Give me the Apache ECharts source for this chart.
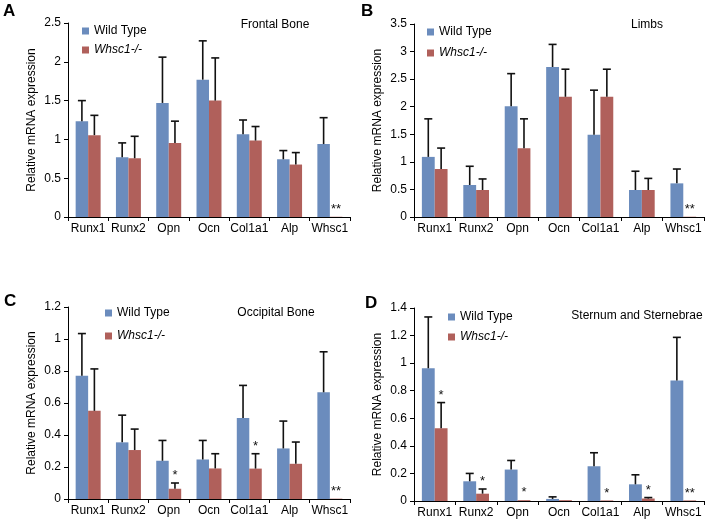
<!DOCTYPE html>
<html>
<head>
<meta charset="utf-8">
<script src="https://cdn.jsdelivr.net/npm/echarts@6/dist/echarts.min.js"></script>
<style>html,body{margin:0;padding:0;background:#fff}#c{width:708px;height:520px}</style>
</head>
<body>
<div id="c"></div>
<script>
const categories = ['Runx1','Runx2','Opn','Ocn','Col1a1','Alp','Whsc1'];
const seriesNames = ['Wild Type','Whsc1-/-'];

// Panel A - Frontal Bone
const wtA = [1.235,0.77,1.47,1.77,1.067,0.744,0.94];
const wtErrA = [1.50,0.955,2.06,2.27,1.25,0.856,1.28];
const koA = [1.055,0.757,0.955,1.50,0.985,0.676,0.003];
const koErrA = [1.31,1.04,1.235,2.05,1.166,0.83,null];
const sigA = ['','','','','','','**'];

// Panel B - Limbs
const wtB = [1.09,0.58,2.01,2.72,1.49,0.49,0.61];
const wtErrB = [1.78,0.92,2.60,3.13,2.30,0.83,0.87];
const koB = [0.87,0.49,1.245,2.18,2.18,0.49,0.005];
const koErrB = [1.25,0.69,1.78,2.68,2.68,0.70,null];
const sigB = ['','','','','','','**'];

// Panel C - Occipital Bone
const wtC = [0.77,0.354,0.239,0.247,0.507,0.316,0.667];
const wtErrC = [1.034,0.524,0.366,0.366,0.71,0.487,0.92];
const koC = [0.551,0.306,0.064,0.191,0.19,0.22,0.002];
const koErrC = [0.813,0.437,0.10,0.283,0.283,0.356,null];
const sigC = ['','','*','','*','','**'];

// Panel D - Sternum and Sternebrae
const wtD = [0.963,0.143,0.228,0.015,0.252,0.121,0.874];
const wtErrD = [1.335,0.20,0.294,0.03,0.35,0.19,1.187];
const koD = [0.527,0.053,0.006,0.006,0.004,0.018,0.004];
const koErrD = [0.714,0.087,null,null,null,0.025,null];
const sigD = ['*','*','*','','*','*','**'];

const panelTitles = ['Frontal Bone','Limbs','Occipital Bone','Sternum and Sternebrae'];
const panelLetters = ['A','B','C','D'];
const yMax = [2.5,3.5,1.2,1.4];
const yInterval = [0.5,0.5,0.2,0.2];

const FONT = 'Liberation Sans, Arial, Helvetica, sans-serif';
const BLUE = '#6b8cbd';
const RED = '#b0605b';
const BARW = 0.31;

const panels = [
  {wt: wtA, wtErr: wtErrA, ko: koA, koErr: koErrA, sig: sigA},
  {wt: wtB, wtErr: wtErrB, ko: koB, koErr: koErrB, sig: sigB},
  {wt: wtC, wtErr: wtErrC, ko: koC, koErr: koErrC, sig: sigC},
  {wt: wtD, wtErr: wtErrD, ko: koD, koErr: koErrD, sig: sigD}
];

const grids = [
  {left: 68, top: 23, width: 282, height: 194},
  {left: 414, top: 24, width: 290, height: 193},
  {left: 68, top: 307, width: 282, height: 192},
  {left: 414, top: 308, width: 290, height: 193}
];
const legendPos = [
  {left: 82, top: 24, itemGap: 5},
  {left: 427, top: 25, itemGap: 7},
  {left: 105, top: 306, itemGap: 9},
  {left: 448, top: 310, itemGap: 6}
];
const titlePos = [[275,25],[647,25],[276,313],[637,316]];
const letterPos = [[3,11],[361,11],[4,301],[365,303]];

const chart = echarts.init(document.getElementById('c'), null, {renderer: 'canvas'});

const xAxes = [], yAxes = [], series = [], legends = [], graphics = [];
panels.forEach((p, k) => {
  xAxes.push({
    type: 'category', gridIndex: k, data: categories,
    axisLine: {lineStyle: {color: '#000', width: 1}},
    axisTick: {show: true, length: 4, lineStyle: {color: '#000'}},
    axisLabel: {color: '#000', fontSize: 12, fontFamily: FONT, margin: 6, interval: 0}
  });
  yAxes.push({
    type: 'value', gridIndex: k, min: 0, max: yMax[k], interval: yInterval[k],
    name: 'Relative mRNA expression', nameLocation: 'middle', nameGap: 30,
    nameTextStyle: {color: '#000', fontSize: 12, fontFamily: FONT},
    axisLine: {show: true, lineStyle: {color: '#000', width: 1}},
    axisTick: {show: true, length: 4, lineStyle: {color: '#000'}},
    axisLabel: {color: '#000', fontSize: 12, fontFamily: FONT, margin: 7},
    splitLine: {show: false}
  });
  series.push({
    name: seriesNames[0], type: 'bar', xAxisIndex: k, yAxisIndex: k,
    data: p.wt, barWidth: (BARW*100)+'%', barGap: '0%',
    itemStyle: {color: BLUE}, animation: false
  });
  series.push({
    name: seriesNames[1], type: 'bar', xAxisIndex: k, yAxisIndex: k,
    data: p.ko, barWidth: (BARW*100)+'%', barGap: '0%',
    itemStyle: {color: RED}, animation: false
  });
  series.push({
    type: 'custom', xAxisIndex: k, yAxisIndex: k, clip: false, z: 5, animation: false,
    silent: true,
    data: categories.map((c, i) => [i, Math.max(p.wtErr[i] || p.wt[i], p.koErr[i] || p.ko[i])]),
    encode: {x: 0, y: 1},
    renderItem: function (params, api) {
      const i = params.dataIndex;
      const band = api.size([1, 0])[0];
      const bw = band * BARW;
      const c0 = api.coord([i, 0]);
      const children = [];
      const cap = 4;
      const addErr = (cx, v, top) => {
        if (top == null) return;
        const a = api.coord([i, v])[1];
        const b = api.coord([i, top])[1];
        children.push({type: 'line', shape: {x1: cx, y1: a, x2: cx, y2: b},
          style: {stroke: '#111', lineWidth: 1.6}});
        children.push({type: 'line', shape: {x1: cx - cap, y1: b, x2: cx + cap, y2: b},
          style: {stroke: '#111', lineWidth: 1.6}});
      };
      const wx = c0[0] - bw / 2, kx = c0[0] + bw / 2;
      addErr(wx, p.wt[i], p.wtErr[i]);
      addErr(kx, p.ko[i], p.koErr[i]);
      if (p.sig[i]) {
        const topV = p.koErr[i] != null ? p.koErr[i] : p.ko[i];
        const ty = api.coord([i, topV])[1];
        children.push({type: 'text', x: kx, y: ty - 1,
          style: {text: p.sig[i], fill: '#111', font: '13px ' + FONT,
            textAlign: 'center', textVerticalAlign: 'bottom'}});
      }
      return {type: 'group', children: children};
    }
  });
  legends.push({
    orient: 'vertical', left: legendPos[k].left, top: legendPos[k].top,
    itemGap: legendPos[k].itemGap, itemWidth: 7, itemHeight: 7, icon: 'rect',
    selectedMode: false, padding: 0,
    textStyle: {color: '#000', fontSize: 12, fontFamily: FONT, lineHeight: 14},
    data: [
      {name: seriesNames[0], itemStyle: {color: BLUE}},
      {name: seriesNames[1], itemStyle: {color: RED}, textStyle: {fontStyle: 'italic'}}
    ]
  });
  graphics.push({
    type: 'text', x: titlePos[k][0], y: titlePos[k][1],
    style: {text: panelTitles[k], fill: '#000', font: '12px ' + FONT,
      textAlign: 'center', textVerticalAlign: 'middle'}
  });
  graphics.push({
    type: 'text', x: letterPos[k][0], y: letterPos[k][1],
    style: {text: panelLetters[k], fill: '#000', font: 'bold 17px ' + FONT,
      textAlign: 'left', textVerticalAlign: 'middle'}
  });
});

chart.setOption({
  backgroundColor: '#fff',
  animation: false,
  grid: grids,
  xAxis: xAxes,
  yAxis: yAxes,
  legend: legends,
  series: series,
  graphic: graphics
});
</script>
</body>
</html>
